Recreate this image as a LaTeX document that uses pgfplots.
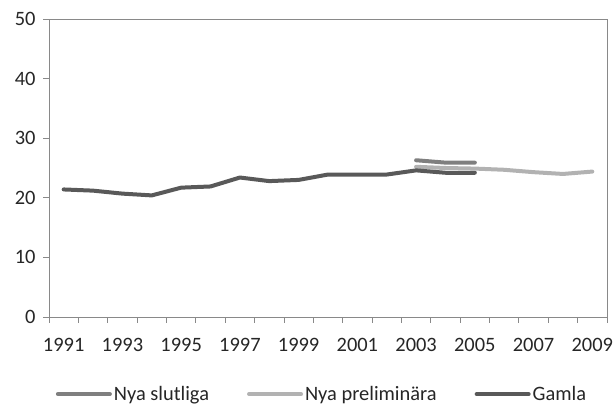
\documentclass[border=0pt]{standalone}
\usepackage{pgfplots}
\pgfplotsset{compat=1.18}
\usepackage{fontspec}
\setmainfont{Carlito}
\definecolor{slut}{HTML}{7F7F7F}
\definecolor{prel}{HTML}{B2B2B2}
\definecolor{gamla}{HTML}{595959}
\definecolor{axgray}{HTML}{898989}
\begin{document}
\begin{tikzpicture}
\begin{axis}[
  scale only axis,
  width=558bp, height=298bp,
  xmin=1990.5, xmax=2009.5,
  ymin=0, ymax=50,
  xtick={1991,1993,...,2009},
  minor xtick={1990.5,1991.5,...,2009.5},
  ytick={0,10,...,50},
  xticklabel style={/pgf/number format/1000 sep={}},
  /pgf/number format/assume math mode=true,
  xtick pos=bottom, ytick pos=left,
  tick align=outside,
  major x tick style={draw=none},
  minor tick length=6bp, major tick length=6bp,
  every tick/.style={axgray, line width=0.8pt},
  axis line style={axgray, line width=0.8pt},
  tick label style={font=\fontsize{20.5}{22}\selectfont, text=black!85},
  xticklabel style={yshift=-12bp},
  yticklabel style={xshift=-4bp},
  legend style={at={(0.5,-0.225)}, anchor=north, xshift=-6bp, draw=none, legend columns=3,
    font=\fontsize{20.5}{22}\selectfont, text=black!85, inner sep=0pt,
    /tikz/every even column/.append style={column sep=36bp}},
  legend image code/.code={\draw[#1, line cap=round] (0bp,0bp) -- (52bp,0bp);},
  every axis plot/.append style={line width=4bp, line join=round, line cap=round},
]
\addplot[slut] coordinates {(2003,26.3) (2004,25.9) (2005,25.9)};
\addlegendentry{Nya slutliga}
\addplot[prel] coordinates {(2003,25.2) (2004,25.0) (2005,24.9) (2006,24.7) (2007,24.3) (2008,24.0) (2009,24.4)};
\addlegendentry{Nya preliminära}
\addplot[gamla] coordinates {(1991,21.4) (1992,21.2) (1993,20.7) (1994,20.4) (1995,21.7) (1996,21.9) (1997,23.4) (1998,22.8) (1999,23.0) (2000,23.9) (2001,23.9) (2002,23.9) (2003,24.6) (2004,24.2) (2005,24.2)};
\addlegendentry{Gamla}
\end{axis}
\pgfresetboundingbox
\path (current axis.south west) ++(-49bp,-90bp) coordinate (a);
\path (current axis.north east) ++(6bp,19bp) coordinate (b);
\path[use as bounding box] (a) rectangle (b);
\end{tikzpicture}
\end{document}
